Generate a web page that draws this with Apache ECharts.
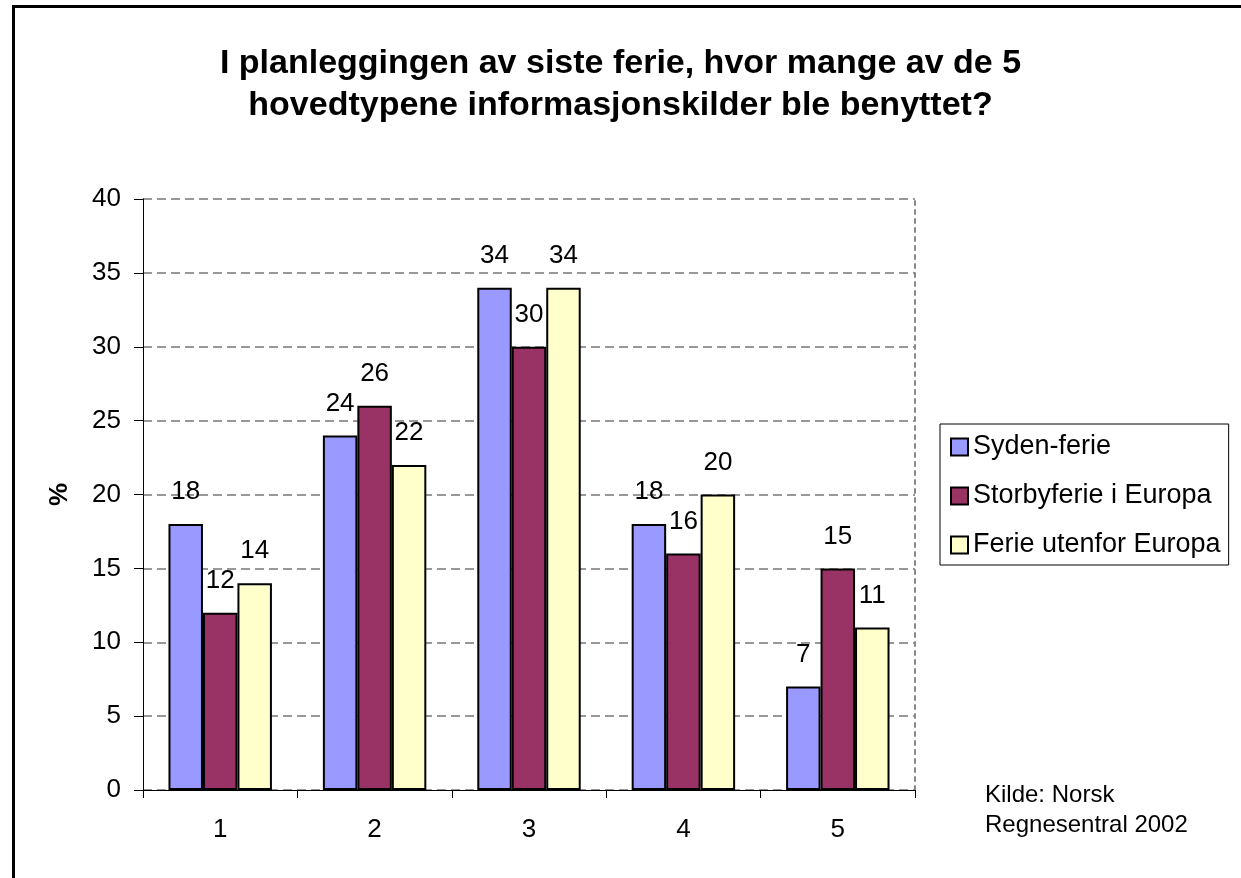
<!DOCTYPE html>
<html>
<head>
<meta charset="utf-8">
<script src="https://cdn.jsdelivr.net/npm/echarts@6/dist/echarts.min.js"></script>
<style>
  html, body { margin: 0; padding: 0; background: #fff; }
  #chart { width: 1241px; height: 878px; }
</style>
</head>
<body>
<div id="chart"></div>
<script>
// data
var categories = ['1', '2', '3', '4', '5'];
var seriesNames = ['Syden-ferie', 'Storbyferie i Europa', 'Ferie utenfor Europa'];
var syden = [18, 24, 34, 18, 7];
var storby = [12, 26, 30, 16, 15];
var utenfor = [14, 22, 34, 20, 11];
var yTicks = { min: 0, max: 40, interval: 5 };

var colors = ['#9999FF', '#993366', '#FFFFCC'];
var font = 'Liberation Sans, Arial, sans-serif';

function barSeries(name, data, color) {
  return {
    name: name,
    type: 'bar',
    data: data,
    barGap: '0%',
    barCategoryGap: '33%',
    itemStyle: { color: color, borderColor: '#000', borderWidth: 2 },
    label: {
      show: true,
      position: 'top',
      distance: 19,
      color: '#000',
      fontFamily: font,
      fontSize: 26
    },
    emphasis: { disabled: true }
  };
}

var chart = echarts.init(document.getElementById('chart'));
var option = {
  backgroundColor: '#fff',
  animation: false,
  title: {
    text: 'I planleggingen av siste ferie, hvor mange av de 5\nhovedtypene informasjonskilder ble benyttet?',
    left: 'center',
    top: 38,
    textStyle: {
      fontFamily: font,
      fontSize: 34,
      fontWeight: 'bold',
      lineHeight: 42,
      color: '#000'
    }
  },
  legend: {
    orient: 'vertical',
    left: 940,
    top: 424,
    padding: [9, 8, 6, 10],
    itemGap: 21,
    itemWidth: 17,
    itemHeight: 17,
    icon: 'rect',
    borderColor: '#000',
    borderWidth: 1,
    textStyle: { fontFamily: font, fontSize: 27, lineHeight: 28, color: '#000' },
    data: seriesNames
  },
  grid: { left: 143, right: 326, top: 199, bottom: 88 },
  xAxis: {
    type: 'category',
    data: categories,
    axisLine: { lineStyle: { color: '#000', width: 1 } },
    axisTick: { show: true, length: 8, lineStyle: { color: '#000' } },
    axisLabel: { margin: 27, color: '#000', fontFamily: font, fontSize: 26 },
    splitLine: { show: false }
  },
  yAxis: [{
    type: 'value',
    min: yTicks.min,
    max: yTicks.max,
    interval: yTicks.interval,
    name: '%',
    nameLocation: 'middle',
    nameGap: 70,
    nameRotate: 90,
    nameTextStyle: { fontFamily: font, fontSize: 26, fontWeight: 'bold', color: '#000' },
    axisLine: { show: true, lineStyle: { color: '#000', width: 1 } },
    axisTick: { show: true, length: 9, lineStyle: { color: '#000' } },
    axisLabel: { margin: 22, color: '#000', fontFamily: font, fontSize: 26 },
    splitLine: { show: true, lineStyle: { color: '#777', type: [9, 5], width: 1.5 } }
  }, {
    type: 'value',
    min: yTicks.min,
    max: yTicks.max,
    interval: yTicks.interval,
    position: 'right',
    axisLine: { show: true, lineStyle: { color: '#888', type: [4, 5], width: 2 } },
    axisTick: { show: false },
    axisLabel: { show: false },
    splitLine: { show: false }
  }],
  series: [
    barSeries(seriesNames[0], syden, colors[0]),
    barSeries(seriesNames[1], storby, colors[1]),
    barSeries(seriesNames[2], utenfor, colors[2])
  ],
  graphic: [
    {
      type: 'rect',
      left: 11,
      top: 4,
      shape: { width: 1400, height: 1000 },
      style: { fill: null, stroke: '#000', lineWidth: 3 },
      silent: true
    },
    {
      type: 'text',
      left: 985,
      top: 780,
      style: {
        text: 'Kilde: Norsk\nRegnesentral 2002',
        fontFamily: font,
        fontSize: 24,
        lineHeight: 30,
        fill: '#000'
      }
    }
  ]
};
chart.setOption(option);
window.addEventListener('resize', chart.resize);
</script>
</body>
</html>
